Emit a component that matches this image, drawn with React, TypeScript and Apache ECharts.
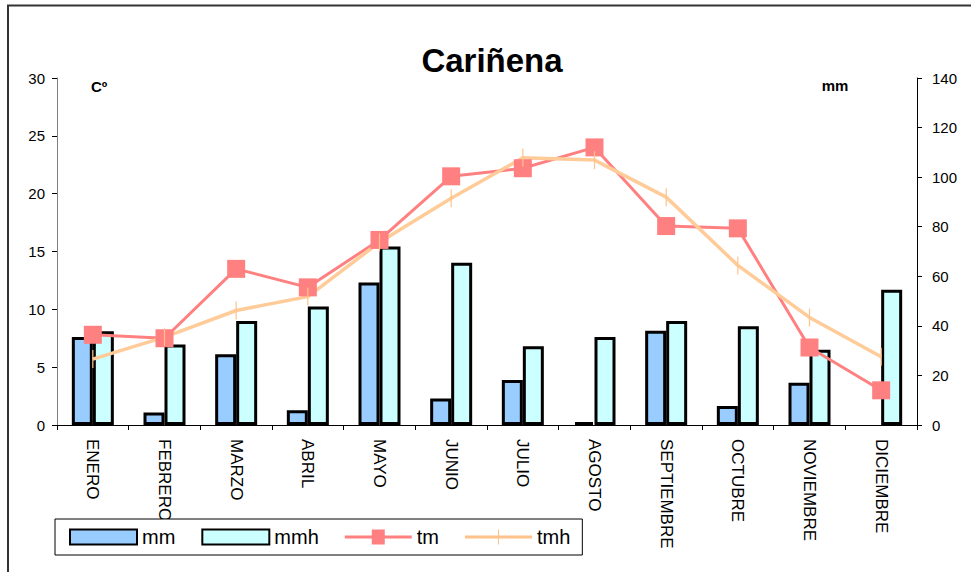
import React, { useEffect, useRef } from "react";
import * as echarts from "echarts";

const months = ["ENERO", "FEBRERO", "MARZO", "ABRIL", "MAYO", "JUNIO", "JULIO", "AGOSTO", "SEPTIEMBRE", "OCTUBRE", "NOVIEMBRE", "DICIEMBRE"];
const mm = [35.5, 5.0, 28.5, 6.0, 57.5, 10.7, 18.2, 1.2, 38.0, 7.7, 17.0, null];
const mmh = [37.8, 32.5, 42.0, 47.8, 72.0, 65.5, 31.8, 35.5, 42.0, 39.8, 30.4, 54.6];
const tm = [7.8, 7.5, 13.5, 11.9, 16.0, 21.5, 22.2, 24.0, 17.2, 17.0, 6.7, 3.0];
const tmh = [5.7, 7.6, 9.9, 11.1, 15.8, 19.6, 23.1, 22.9, 19.7, 13.8, 9.3, 5.9];
const leftTicks = { min: 0, max: 30, interval: 5 };
const rightTicks = { min: 0, max: 140, interval: 20 };

const FONT = "Liberation Sans, Arial, sans-serif";

export default function App() {
  const ref = useRef<HTMLDivElement>(null);
  useEffect(() => {
    if (!ref.current) return;
    const chart = echarts.init(ref.current, null, { renderer: "svg" });
    chart.setOption({
      animation: false,
      backgroundColor: "#ffffff",
      textStyle: { fontFamily: FONT },
      grid: { left: 57, right: 54, top: 78, bottom: 147, containLabel: false },
      graphic: [
        {
          type: "rect",
          z: -10,
          silent: true,
          shape: { x: 8, y: 5.5, width: 1000, height: 600 },
          style: { fill: "none", stroke: "#333333", lineWidth: 2 },
        },
        {
          type: "text",
          x: 492,
          y: 60,
          style: { text: "Cariñena", font: `bold 33px ${FONT}`, fill: "#000", align: "center", verticalAlign: "middle" },
        },
        {
          type: "text",
          x: 91,
          y: 86,
          style: { text: "Cº", font: `bold 15px ${FONT}`, fill: "#000", align: "left", verticalAlign: "middle" },
        },
        {
          type: "text",
          x: 835,
          y: 85,
          style: { text: "mm", font: `bold 15px ${FONT}`, fill: "#000", align: "center", verticalAlign: "middle" },
        },
      ],
      legend: {
        left: 55,
        top: 519,
        orient: "horizontal",
        padding: [8, 12, 8, 14],
        itemGap: 26,
        itemWidth: 67,
        itemHeight: 15,
        backgroundColor: "#ffffff",
        borderColor: "#000000",
        borderWidth: 1,
        borderRadius: 0,
        symbolKeepAspect: false,
        textStyle: { fontSize: 20, color: "#000", fontFamily: FONT },
        data: [
          { name: "mm", icon: "rect" },
          { name: "mmh", icon: "rect" },
          { name: "tm", icon: "path://M0,6.5 L27,6.5 L27,0.5 L40,0.5 L40,6.5 L67,6.5 L67,9.5 L40,9.5 L40,15.5 L27,15.5 L27,9.5 L0,9.5 Z" },
          { name: "tmh", icon: "path://M0,6.5 L33,6.5 L33,0 L34,0 L34,6.5 L67,6.5 L67,9.5 L34,9.5 L34,16 L33,16 L33,9.5 L0,9.5 Z" },
        ],
      },
      xAxis: {
        type: "category",
        data: months,
        boundaryGap: true,
        axisLine: { show: true, lineStyle: { color: "#000", width: 1 } },
        axisTick: { show: true, length: 5, lineStyle: { color: "#000" } },
        axisLabel: { rotate: -90, interval: 0, fontSize: 17, color: "#000", margin: 14, fontFamily: FONT },
        splitLine: { show: false },
      },
      yAxis: [
        {
          type: "value",
          position: "left",
          min: leftTicks.min,
          max: leftTicks.max,
          interval: leftTicks.interval,
          axisLine: { show: true, lineStyle: { color: "#808080", width: 1 } },
          axisTick: { show: true, length: 5, lineStyle: { color: "#000" } },
          axisLabel: { fontSize: 15, color: "#000", margin: 12, fontFamily: FONT },
          splitLine: { show: false },
        },
        {
          type: "value",
          position: "right",
          min: rightTicks.min,
          max: rightTicks.max,
          interval: rightTicks.interval,
          axisLine: { show: true, lineStyle: { color: "#000", width: 1 } },
          axisTick: { show: true, length: 5, lineStyle: { color: "#000" } },
          axisLabel: { fontSize: 15, color: "#000", margin: 15, fontFamily: FONT },
          splitLine: { show: false },
        },
      ],
      series: [
        {
          name: "mm",
          type: "bar",
          yAxisIndex: 1,
          data: mm,
          barWidth: 21,
          barGap: "0%",
          itemStyle: { color: "#99CCFF", borderColor: "#000", borderWidth: 3 },
        },
        {
          name: "mmh",
          type: "bar",
          yAxisIndex: 1,
          data: mmh,
          barWidth: 21,
          barGap: "0%",
          itemStyle: { color: "#CCFFFF", borderColor: "#000", borderWidth: 3 },
        },
        {
          name: "tm",
          type: "line",
          yAxisIndex: 0,
          data: tm,
          symbol: "rect",
          symbolSize: 18,
          lineStyle: { color: "#FF8080", width: 3 },
          itemStyle: { color: "#FF8080" },
        },
        {
          name: "tmh",
          type: "line",
          yAxisIndex: 0,
          data: tmh,
          symbol: "rect",
          symbolSize: [1.2, 18],
          lineStyle: { color: "#FFCC99", width: 3.5 },
          itemStyle: { color: "#FFC28A" },
        },
      ],
    });
    return () => chart.dispose();
  }, []);
  return <div ref={ref} style={{ position: "absolute", left: 0, top: 0, width: 971, height: 572 }} />;
}
